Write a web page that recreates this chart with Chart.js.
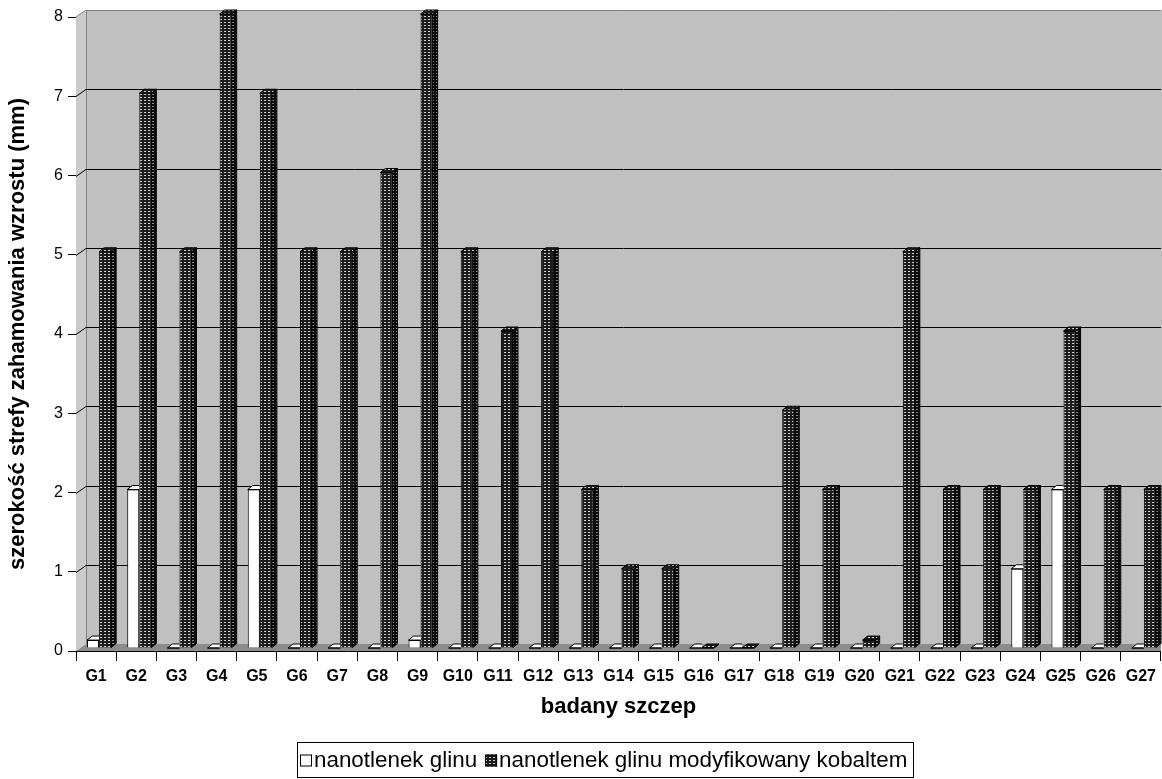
<!DOCTYPE html>
<html>
<head>
<meta charset="utf-8">
<script src="https://cdn.jsdelivr.net/npm/chart.js@4.4.1/dist/chart.umd.min.js"></script>
<style>
  html, body { margin: 0; padding: 0; background: #fff; }
  #wrap { width: 1162px; height: 779px; }
</style>
</head>
<body>
<div id="wrap"><canvas id="chart" width="1162" height="779"></canvas></div>
<script>
const categories = ['G1','G2','G3','G4','G5','G6','G7','G8','G9','G10','G11','G12','G13','G14',
  'G15','G16','G17','G18','G19','G20','G21','G22','G23','G24','G25','G26','G27'];
const nanoGlin = [0.1, 2, 0, 0, 2, 0, 0, 0, 0.1, 0, 0, 0, 0, 0, 0, 0, 0, 0, 0, 0, 0, 0, 0, 1, 2, 0, 0];
const nanoKobalt = [5, 7, 5, 8, 7, 5, 5, 6, 8, 5, 4, 5, 2, 1, 1, 0, 0, 3, 2, 0.1, 5, 2, 2, 2, 4, 2, 2];
const yTicks = [0, 1, 2, 3, 4, 5, 6, 7, 8];
const seriesNames = ['nanotlenek glinu', 'nanotlenek glinu modyfikowany kobaltem'];

const FONT = 'Arial, "Liberation Sans", sans-serif';
// 3D offsets: back wall, bar front shift, bar depth
const WALL = { dx: 10, dy: -7 };
const SHIFT = { dx: 3, dy: -3 };
const DEPTH = { dx: 5, dy: -4 };

function makePattern(ctx, bg, dot) {
  const c = document.createElement('canvas');
  c.width = 4; c.height = 3;
  const p = c.getContext('2d');
  p.fillStyle = bg; p.fillRect(0, 0, 4, 3);
  p.fillStyle = dot; p.fillRect(1, 1, 2, 1);
  return ctx.createPattern(c, 'repeat');
}

const canvas = document.getElementById('chart');
const ctx0 = canvas.getContext('2d');
const darkPat = makePattern(ctx0, '#1c1c1c', '#d0d0d0');
const darkerPat = makePattern(ctx0, '#0a0a0a', '#8a8a8a');

const walls = {
  id: 'walls',
  beforeDatasetsDraw(chart) {
    const { ctx, chartArea: a, scales: { y } } = chart;
    ctx.save();
    const top = y.getPixelForValue(8), bot = y.getPixelForValue(0);
    // back wall
    ctx.fillStyle = '#c0c0c0';
    ctx.fillRect(a.left + WALL.dx, top + WALL.dy, a.right - a.left, bot - top);
    // left wall
    ctx.fillStyle = '#cbcbcb';
    ctx.beginPath();
    ctx.moveTo(a.left, top); ctx.lineTo(a.left + WALL.dx, top + WALL.dy);
    ctx.lineTo(a.left + WALL.dx, bot + WALL.dy); ctx.lineTo(a.left, bot);
    ctx.closePath(); ctx.fill();
    // floor
    ctx.fillStyle = '#8c8c8c';
    ctx.beginPath();
    ctx.moveTo(a.left, bot); ctx.lineTo(a.left + WALL.dx, bot + WALL.dy);
    ctx.lineTo(a.right, bot + WALL.dy); ctx.lineTo(a.right, bot);
    ctx.closePath(); ctx.fill();
    // grey wall edges
    ctx.strokeStyle = '#808080';
    ctx.lineWidth = 1;
    ctx.beginPath();
    ctx.moveTo(a.left + WALL.dx + 0.5, bot + WALL.dy);
    ctx.lineTo(a.left + WALL.dx + 0.5, top + WALL.dy + 0.5);
    ctx.lineTo(a.right, top + WALL.dy + 0.5);
    ctx.moveTo(a.left, top); ctx.lineTo(a.left + WALL.dx, top + WALL.dy);
    ctx.stroke();
    // gridlines on back wall + diagonals on side wall
    ctx.strokeStyle = '#000';
    yTicks.forEach(v => {
      if (v === 0 || v === 8) return;
      const py = Math.round(y.getPixelForValue(v)) + 0.5;
      ctx.beginPath();
      ctx.moveTo(a.left, py); ctx.lineTo(a.left + WALL.dx, py + WALL.dy);
      ctx.lineTo(a.right, py + WALL.dy);
      ctx.stroke();
    });
    ctx.restore();
  },
  beforeDatasetDraw(chart) {
    chart.ctx.save();
    chart.ctx.translate(SHIFT.dx, SHIFT.dy);
  },
  afterDatasetDraw(chart, args) {
    const ctx = chart.ctx;
    const isDark = args.index === 1;
    args.meta.data.forEach(bar => {
      const p = bar.getProps(['x', 'y', 'base', 'width'], true);
      const l = p.x - p.width / 2, r = p.x + p.width / 2;
      const t = p.y, b = p.base;
      ctx.save();
      if (!isDark) {
        // white bar sits behind the dark bar next to it
        ctx.beginPath();
        ctx.rect(l - 2, 0, r - l + 2, chart.height);
        ctx.clip();
      }
      ctx.lineWidth = 1;
      ctx.strokeStyle = '#000';
      // side face
      ctx.beginPath();
      ctx.moveTo(r, t); ctx.lineTo(r + DEPTH.dx, t + DEPTH.dy);
      ctx.lineTo(r + DEPTH.dx, b + DEPTH.dy); ctx.lineTo(r, b);
      ctx.closePath();
      ctx.fillStyle = isDark ? darkerPat : '#e6e6e6';
      ctx.fill(); ctx.stroke();
      // top face
      ctx.beginPath();
      ctx.moveTo(l, t); ctx.lineTo(l + DEPTH.dx, t + DEPTH.dy);
      ctx.lineTo(r + DEPTH.dx, t + DEPTH.dy); ctx.lineTo(r, t);
      ctx.closePath();
      ctx.fillStyle = isDark ? darkPat : '#fff';
      ctx.fill(); ctx.stroke();
      if (t === b) {
        ctx.beginPath(); ctx.moveTo(l, b); ctx.lineTo(r, b); ctx.stroke();
      }
      ctx.restore();
    });
    ctx.restore();
  },
  afterDraw(chart) {
    // legend box
    const ctx = chart.ctx;
    ctx.save();
    const bx = 297, by = 742, bw = 616, bh = 35;
    ctx.fillStyle = '#fff';
    ctx.fillRect(bx, by, bw, bh);
    ctx.strokeStyle = '#000'; ctx.lineWidth = 1;
    ctx.strokeRect(bx + 0.5, by + 0.5, bw, bh);
    ctx.font = '22.4px ' + FONT;
    ctx.textBaseline = 'middle';
    const cy = by + bh / 2 + 1;
    let x = bx + 3;
    const fills = ['#fff', darkPat];
    seriesNames.forEach((name, i) => {
      ctx.fillStyle = fills[i];
      ctx.fillRect(x, cy - 6, 12, 12);
      ctx.strokeStyle = '#000';
      ctx.strokeRect(x + 0.5, cy - 5.5, 11, 11);
      ctx.fillStyle = '#000';
      ctx.fillText(name, x + 14, cy);
      x += 14 + ctx.measureText(name).width + 8;
    });
    ctx.restore();
  }
};

new Chart(canvas, {
  type: 'bar',
  data: {
    labels: categories,
    datasets: [
      { label: seriesNames[0], data: nanoGlin, backgroundColor: '#fff', borderColor: '#000',
        borderWidth: 1, clip: false },
      { label: seriesNames[1], data: nanoKobalt, backgroundColor: darkPat, borderColor: '#000',
        borderWidth: 1, clip: false }
    ]
  },
  plugins: [walls],
  options: {
    responsive: false,
    animation: false,
    layout: { padding: { top: 17, right: 0, bottom: 0, left: 0 } },
    datasets: { bar: { categoryPercentage: 0.6, barPercentage: 1 } },
    plugins: { legend: { display: false }, tooltip: { enabled: false } },
    scales: {
      x: {
        afterFit: s => { s.height = 128; },
        grid: { drawOnChartArea: false, drawTicks: true, tickLength: 10, color: '#000', offset: true },
        border: { display: true, color: '#000' },
        ticks: { color: '#000', font: { family: FONT, size: 16, weight: 'bold' }, padding: 6, maxRotation: 0, autoSkip: false },
        title: { display: true, text: 'badany szczep', color: '#000',
          font: { family: FONT, size: 22, weight: 'bold' }, padding: { bottom: 59 } }
      },
      y: {
        min: 0, max: 8,
        afterFit: s => { s.width = 76; },
        afterBuildTicks: s => { s.ticks = yTicks.map(v => ({ value: v })); },
        grid: { drawOnChartArea: false, drawTicks: true, tickLength: 8, color: '#000' },
        border: { display: true, color: '#000' },
        ticks: { color: '#000', font: { family: FONT, size: 16 }, padding: 5 },
        title: { display: true, text: 'szerokość strefy zahamowania wzrostu (mm)', color: '#000',
          font: { family: FONT, size: 22, weight: 'bold' }, padding: { top: 5 } }
      }
    }
  }
});
</script>
</body>
</html>
